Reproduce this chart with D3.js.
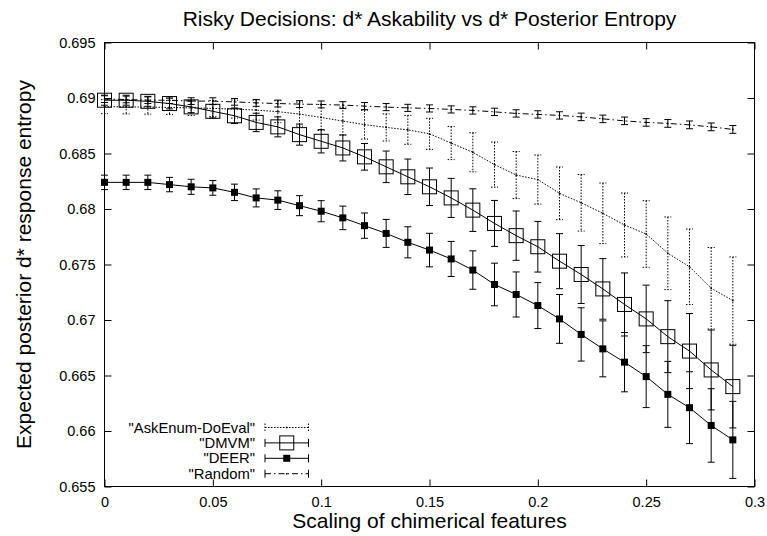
<!DOCTYPE html>
<html>
<head>
<meta charset="utf-8">
<script src="https://cdn.jsdelivr.net/npm/d3@7"></script>
<style>
  body { margin: 0; background: #fff; }
  svg { display: block; font-family: "Liberation Sans", Arial, Helvetica, sans-serif; }
</style>
</head>
<body>
<svg id="chart" width="767" height="536"></svg>
<script>
// Scaling of chimerical features (x positions of every measurement)
const scaling = [0, 0.01, 0.02, 0.03, 0.04, 0.05, 0.06, 0.07, 0.08, 0.09,
                 0.10, 0.11, 0.12, 0.13, 0.14, 0.15, 0.16, 0.17, 0.18, 0.19,
                 0.20, 0.21, 0.22, 0.23, 0.24, 0.25, 0.26, 0.27, 0.28, 0.29];

// Expected posterior d* response entropy, mean and error per method
const askEnumMean = [0.68922, 0.68920, 0.68918, 0.68915, 0.68911, 0.68906, 0.68900, 0.68891, 0.68877, 0.68855,
                     0.68825, 0.68792, 0.68760, 0.68735, 0.68713, 0.68677, 0.68594, 0.68511, 0.68400, 0.68306,
                     0.68265, 0.68141, 0.68056, 0.67961, 0.67856, 0.67775, 0.67601, 0.67480, 0.67286, 0.67175];
const askEnumErr  = [0.00063, 0.00063, 0.00063, 0.00063, 0.00068, 0.00072, 0.00081, 0.00090, 0.00099, 0.00108,
                     0.00117, 0.00126, 0.00130, 0.00122, 0.00130, 0.00140, 0.00149, 0.00176, 0.00203, 0.00212,
                     0.00221, 0.00237, 0.00255, 0.00273, 0.00288, 0.00300, 0.00327, 0.00340, 0.00367, 0.00393];

const dmvmMean = [0.68980, 0.68980, 0.68970, 0.68950, 0.68920, 0.68880, 0.68840, 0.68780, 0.68740, 0.68670,
                  0.68610, 0.68550, 0.68470, 0.68380, 0.68290, 0.68200, 0.68100, 0.67990, 0.67870, 0.67760,
                  0.67660, 0.67530, 0.67410, 0.67280, 0.67140, 0.67010, 0.66850, 0.66720, 0.66550, 0.66400];
const dmvmErr  = [0.00045, 0.00045, 0.00045, 0.00048, 0.00052, 0.00060, 0.00070, 0.00083, 0.00090, 0.00095,
                  0.00105, 0.00117, 0.00120, 0.00142, 0.00160, 0.00169, 0.00176, 0.00192, 0.00207, 0.00222,
                  0.00228, 0.00248, 0.00261, 0.00273, 0.00284, 0.00304, 0.00324, 0.00338, 0.00360, 0.00372];

const deerMean = [0.68240, 0.68240, 0.68240, 0.68220, 0.68200, 0.68190, 0.68150, 0.68100, 0.68080, 0.68030,
                  0.67980, 0.67920, 0.67850, 0.67780, 0.67700, 0.67630, 0.67550, 0.67450, 0.67320, 0.67230,
                  0.67130, 0.67010, 0.66870, 0.66740, 0.66620, 0.66490, 0.66330, 0.66210, 0.66050, 0.65920];
const deerErr  = [0.00065, 0.00065, 0.00065, 0.00065, 0.00068, 0.00066, 0.00074, 0.00081, 0.00084, 0.00090,
                  0.00095, 0.00106, 0.00114, 0.00126, 0.00140, 0.00151, 0.00158, 0.00173, 0.00192, 0.00203,
                  0.00207, 0.00220, 0.00240, 0.00252, 0.00267, 0.00279, 0.00297, 0.00324, 0.00331, 0.00347];

const randomMean = [0.68990, 0.68987, 0.68980, 0.68980, 0.68972, 0.68972, 0.68965, 0.68956, 0.68950, 0.68945,
                    0.68942, 0.68936, 0.68927, 0.68918, 0.68911, 0.68906, 0.68897, 0.68888, 0.68875, 0.68861,
                    0.68852, 0.68843, 0.68830, 0.68812, 0.68794, 0.68780, 0.68771, 0.68758, 0.68740, 0.68717];
const randomErr  = [0.00030, 0.00030, 0.00030, 0.00030, 0.00030, 0.00030, 0.00030, 0.00031, 0.00031, 0.00031,
                    0.00031, 0.00031, 0.00032, 0.00032, 0.00032, 0.00032, 0.00032, 0.00033, 0.00033, 0.00033,
                    0.00033, 0.00033, 0.00034, 0.00034, 0.00034, 0.00034, 0.00035, 0.00035, 0.00035, 0.00035];

// Axis ticks and their labels
const xTicks = [0, 0.05, 0.1, 0.15, 0.2, 0.25, 0.3];
const xTickLabels = ["0", "0.05", "0.1", "0.15", "0.2", "0.25", "0.3"];
const yTicks = [0.655, 0.66, 0.665, 0.67, 0.675, 0.68, 0.685, 0.69, 0.695];
const yTickLabels = ["0.655", "0.66", "0.665", "0.67", "0.675", "0.68", "0.685", "0.69", "0.695"];

// Legend entries (drawing order)
const seriesNames = ['"AskEnum-DoEval"', '"DMVM"', '"DEER"', '"Random"'];

const titleText = "Risky Decisions: d* Askability vs d* Posterior Entropy";
const xLabelText = "Scaling of chimerical features";
const yLabelText = "Expected posterior d* response entropy";

// ---------------------------------------------------------------
const W = 767, H = 536;
const plot = { left: 104.5, right: 754.5, top: 42.5, bottom: 486.5 };

const x = d3.scaleLinear().domain([0, 0.3]).range([plot.left, plot.right]);
const y = d3.scaleLinear().domain([0.655, 0.695]).range([plot.bottom, plot.top]);

const svg = d3.select("#chart");
svg.append("rect").attr("width", W).attr("height", H).attr("fill", "#fff");

const series = [
  { name: seriesNames[0], mean: askEnumMean, err: askEnumErr, line: "1.5,1.5", bar: "1.5,1.5", marker: "dot" },
  { name: seriesNames[1], mean: dmvmMean,    err: dmvmErr,    line: null,      bar: null,      marker: "open" },
  { name: seriesNames[2], mean: deerMean,    err: deerErr,    line: null,      bar: null,      marker: "filled" },
  { name: seriesNames[3], mean: randomMean,  err: randomErr,  line: "6,3,1.5,3", bar: null,    marker: "dot" }
];

const tickFont = 14.5;
const legendFont = 14.8;
const labelFont = 21;

function styleAxis(g) {
  g.select(".domain").remove();
  g.selectAll(".tick line").attr("stroke", "#000").attr("stroke-width", 1);
  g.selectAll(".tick text").attr("fill", "#000").attr("font-size", tickFont)
    .attr("font-family", '"Liberation Sans", Arial, Helvetica, sans-serif');
}

// Axes with inward ticks on all four sides
svg.append("g").attr("transform", `translate(0,${plot.bottom})`)
  .call(d3.axisBottom(x).tickValues(xTicks).tickFormat((d, i) => xTickLabels[i]).tickSize(-7).tickPadding(10))
  .call(styleAxis);
svg.append("g").attr("transform", `translate(0,${plot.top})`)
  .call(d3.axisTop(x).tickValues(xTicks).tickFormat("").tickSize(-7))
  .call(styleAxis);
svg.append("g").attr("transform", `translate(${plot.left},0)`)
  .call(d3.axisLeft(y).tickValues(yTicks).tickFormat((d, i) => yTickLabels[i]).tickSize(-7).tickPadding(9))
  .call(styleAxis);
svg.append("g").attr("transform", `translate(${plot.right},0)`)
  .call(d3.axisRight(y).tickValues(yTicks).tickFormat("").tickSize(-7))
  .call(styleAxis);

// Plot border
svg.append("rect")
  .attr("x", plot.left).attr("y", plot.top)
  .attr("width", plot.right - plot.left).attr("height", plot.bottom - plot.top)
  .attr("fill", "none").attr("stroke", "#000").attr("stroke-width", 1);

const capHalf = 3.5;
const line = d3.line().x(d => x(d[0])).y(d => y(d[1]));

function drawMarker(g, kind, cx, cy) {
  if (kind === "open") {
    g.append("rect").attr("x", cx - 7).attr("y", cy - 7).attr("width", 14).attr("height", 14)
      .attr("fill", "none").attr("stroke", "#000").attr("stroke-width", 1);
  } else if (kind === "filled") {
    g.append("rect").attr("x", cx - 3.5).attr("y", cy - 3.5).attr("width", 7).attr("height", 7)
      .attr("fill", "#000");
  } else {
    g.append("rect").attr("x", cx - 0.75).attr("y", cy - 0.75).attr("width", 1.5).attr("height", 1.5)
      .attr("fill", "#000");
  }
}

function drawErrorBar(g, cx, yTop, yBot, dash) {
  const segs = [
    [cx, yTop, cx, yBot],
    [cx - capHalf, yTop, cx + capHalf, yTop],
    [cx - capHalf, yBot, cx + capHalf, yBot]
  ];
  segs.forEach(s => {
    g.append("line").attr("x1", s[0]).attr("y1", s[1]).attr("x2", s[2]).attr("y2", s[3])
      .attr("stroke", "#000").attr("stroke-width", 1)
      .attr("stroke-dasharray", dash);
  });
}

// Data series: connecting line, error bars, point markers
series.forEach(s => {
  const g = svg.append("g");
  const pts = scaling.map((sx, i) => [sx, s.mean[i]]);
  g.append("path").attr("d", line(pts)).attr("fill", "none")
    .attr("stroke", "#000").attr("stroke-width", 1).attr("stroke-dasharray", s.line);
  scaling.forEach((sx, i) => {
    drawErrorBar(g, x(sx), y(s.mean[i] + s.err[i]), y(s.mean[i] - s.err[i]), s.bar);
  });
  scaling.forEach((sx, i) => drawMarker(g, s.marker, x(sx), y(s.mean[i])));
});

// Legend, bottom left inside the plot
const legend = svg.append("g");
const legTextX = 255, legX1 = 265, legX2 = 308.5, legY0 = 427.5, legDy = 15.4;
series.forEach((s, i) => {
  const ly = legY0 + i * legDy;
  legend.append("text").attr("x", legTextX).attr("y", ly).attr("dy", "0.35em")
    .attr("text-anchor", "end").attr("font-size", legendFont).attr("fill", "#000").text(s.name);
  legend.append("line").attr("x1", legX1).attr("y1", ly).attr("x2", legX2).attr("y2", ly)
    .attr("stroke", "#000").attr("stroke-width", 1).attr("stroke-dasharray", s.line);
  [legX1, legX2].forEach(ex => {
    legend.append("line").attr("x1", ex).attr("y1", ly - 4).attr("x2", ex).attr("y2", ly + 4)
      .attr("stroke", "#000").attr("stroke-width", 1).attr("stroke-dasharray", s.bar);
  });
  drawMarker(legend, s.marker, (legX1 + legX2) / 2, ly);
});

// Title and axis labels
svg.append("text").attr("x", (plot.left + plot.right) / 2).attr("y", 26)
  .attr("text-anchor", "middle").attr("font-size", labelFont).attr("fill", "#000").text(titleText);
svg.append("text").attr("x", (plot.left + plot.right) / 2).attr("y", 528)
  .attr("text-anchor", "middle").attr("font-size", labelFont).attr("fill", "#000").text(xLabelText);
svg.append("text")
  .attr("transform", `translate(31,${(plot.top + plot.bottom) / 2}) rotate(-90)`)
  .attr("text-anchor", "middle").attr("font-size", labelFont).attr("fill", "#000").text(yLabelText);
</script>
</body>
</html>
